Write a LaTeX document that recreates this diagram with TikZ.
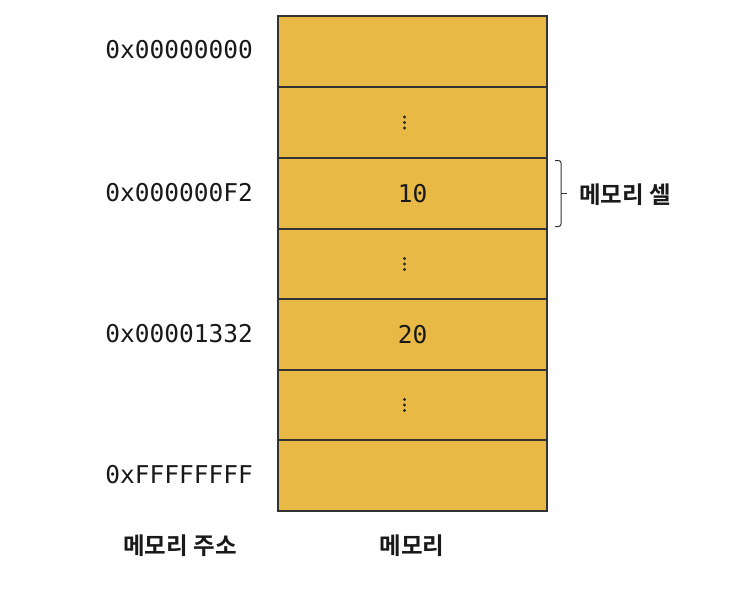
\documentclass[tikz,border=0pt]{standalone}
\usepackage{fontspec}
\newfontfamily\kofont{Noto Sans CJK KR}[BoldFont={* Bold}]
\newfontfamily\monofont{DejaVu Sans Mono}
\definecolor{cellfill}{HTML}{E8BA45}
\definecolor{cellline}{HTML}{333333}
\tikzset{
  cellbox/.style={fill=cellfill, draw=none, minimum width=269pt, inner sep=0pt, outer sep=0pt, anchor=north west},
  celledge/.style={draw=cellline, line width=1.8pt},
  addr/.style={anchor=east, inner sep=0pt, font=\monofont\fontsize{24.5}{26}\selectfont, text=black!90},
  val/.style={inner sep=0pt, font=\monofont\fontsize{24.5}{26}\selectfont, text=black!90},
  kolabel/.style={inner sep=0pt, font=\kofont\bfseries\fontsize{23.5}{26}\selectfont, text=black!90},
  vdot/.style={fill=black!85, draw=none, circle, minimum size=3.4pt, inner sep=0pt},
  bracketline/.style={draw=black!80, line width=1pt, rounded corners=2.5pt}
}
\begin{document}
\begin{tikzpicture}[x=1pt,y=-1pt]
\useasboundingbox (0,0) rectangle (746,594);
% cells (fill)
\foreach \i/\y/\h in {1/16/71,2/87/71,3/158/71,4/229/70,5/299/71,6/370/70,7/440/71}{
  \node[cellbox, minimum height=\h pt] (c\i) at (278,\y) {};
}
% cell borders
\foreach \i in {1,...,7}{
  \draw[celledge] (c\i.north west) rectangle (c\i.south east);
}
% values
\node[val] (v3) at (c3.center) {10};
\node[val] (v5) at (c5.center) {20};
% vertical dots
\foreach \i in {2,4,6}{
  \node[vdot] (d\i a) at ([xshift=-8pt,yshift=-5.5pt]c\i.center) {};
  \node[vdot] (d\i b) at ([xshift=-8pt]c\i.center) {};
  \node[vdot] (d\i c) at ([xshift=-8pt,yshift=5.5pt]c\i.center) {};
}
% addresses
\node[addr] (a1) at (253,50) {0x00000000};
\node[addr] (a3) at (253,193) {0x000000F2};
\node[addr] (a5) at (253,334) {0x00001332};
\node[addr] (a7) at (253,475) {0xFFFFFFFF};
% bracket
\coordinate (bt) at (555,160.5);
\coordinate (bm) at (561,193.5);
\coordinate (btip) at (567,193.5);
\coordinate (bb) at (555,226.5);
\draw[bracketline] (bt) -| (bm) |- (bb);
\draw[draw=black!80, line width=1pt] (bm) -- (btip);
\node[kolabel, anchor=west] (cell) at (579,195) {메모리 셀};
% bottom labels
\node[kolabel] (lab1) at (180,546) {메모리 주소};
\node[kolabel] (lab2) at (412,546) {메모리};
\end{tikzpicture}
\end{document}
